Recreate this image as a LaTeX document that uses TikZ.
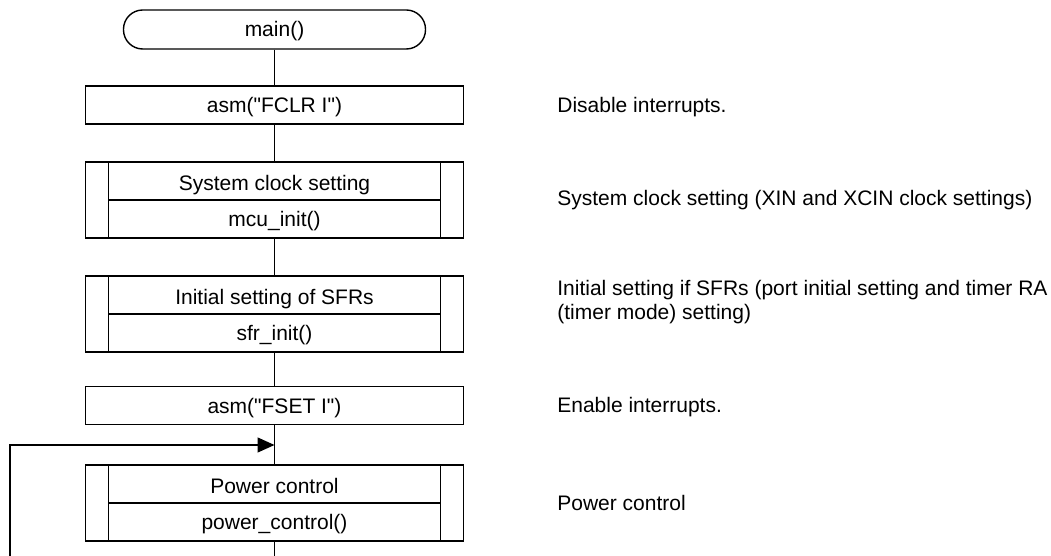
\documentclass[tikz,border=0pt]{standalone}
\usepackage{fontspec}
\setmainfont{Liberation Sans}
\usetikzlibrary{arrows.meta,positioning,calc}

\begin{document}
\begin{tikzpicture}[x=0.5pt, y=-0.5pt, line width=0.7pt,
  every node/.style={font=\fontsize{10.5}{12.5}\selectfont, text height=7.5pt, text depth=0pt},
  termbox/.style={draw, rounded corners=9.6pt, minimum width=151pt, minimum height=19.5pt},
  procbox/.style={draw, minimum width=189pt, minimum height=19pt},
  subbox/.style={draw, minimum width=189pt, minimum height=38pt,
    path picture={
      \draw ([xshift=11.5pt]path picture bounding box.north west) -- ([xshift=11.5pt]path picture bounding box.south west);
      \draw ([xshift=-11.5pt]path picture bounding box.north east) -- ([xshift=-11.5pt]path picture bounding box.south east);
      \draw ([xshift=11.5pt]path picture bounding box.west) -- ([xshift=-11.5pt]path picture bounding box.east);
    }},
  note/.style={anchor=west, align=left}]

\useasboundingbox (0,0) rectangle (1051,556);

% Flow column
\node[termbox] (main) at (274.5,29.5) {main()};
\node[procbox] (fclr) at (274.5,105) {asm(\textquotedbl FCLR I\textquotedbl)};
\node[subbox] (sc) at (274.5,200) {};
\node (sct) at ($(sc.center)+(0,-17)$) {System clock setting};
\node (scf) at ($(sc.center)+(0,19)$) {mcu\_init()};
\node[subbox] (sfr) at (274.5,314) {};
\node (sfrt) at ($(sfr.center)+(0,-17)$) {Initial setting of SFRs};
\node (sfrf) at ($(sfr.center)+(0,19)$) {sfr\_init()};
\node[procbox] (fset) at (274.5,405.5) {asm(\textquotedbl FSET I\textquotedbl)};
\node[subbox] (pc) at (274.5,503) {};
\node (pct) at ($(pc.center)+(0,-17)$) {Power control};
\node (pcf) at ($(pc.center)+(0,19)$) {power\_control()};

\coordinate (join) at (274.5,445);
\coordinate (bot) at (274.5,556);
\coordinate (lp) at (10,556);

% Connecting lines
\draw (main) -- (fclr);
\draw (fclr) -- (sc);
\draw (sc) -- (sfr);
\draw (sfr) -- (fset);
\draw (fset) -- (pc);
\draw (pc) -- (bot);
\draw[-{Triangle[length=8.5pt, width=7.5pt]}] (lp) |- (join);

% Notes
\node[note] (n1) at (550,105) {Disable interrupts.};
\node[note] (n2) at (550,198) {System clock setting (XIN and XCIN clock settings)};
\node[note] (n3) at (550,312.5) {Initial setting if SFRs (port initial setting and timer RA\\(timer mode) setting)};
\node[note] (n4) at (550,405) {Enable interrupts.};
\node[note] (n5) at (550,503) {Power control};

\end{tikzpicture}
\end{document}
